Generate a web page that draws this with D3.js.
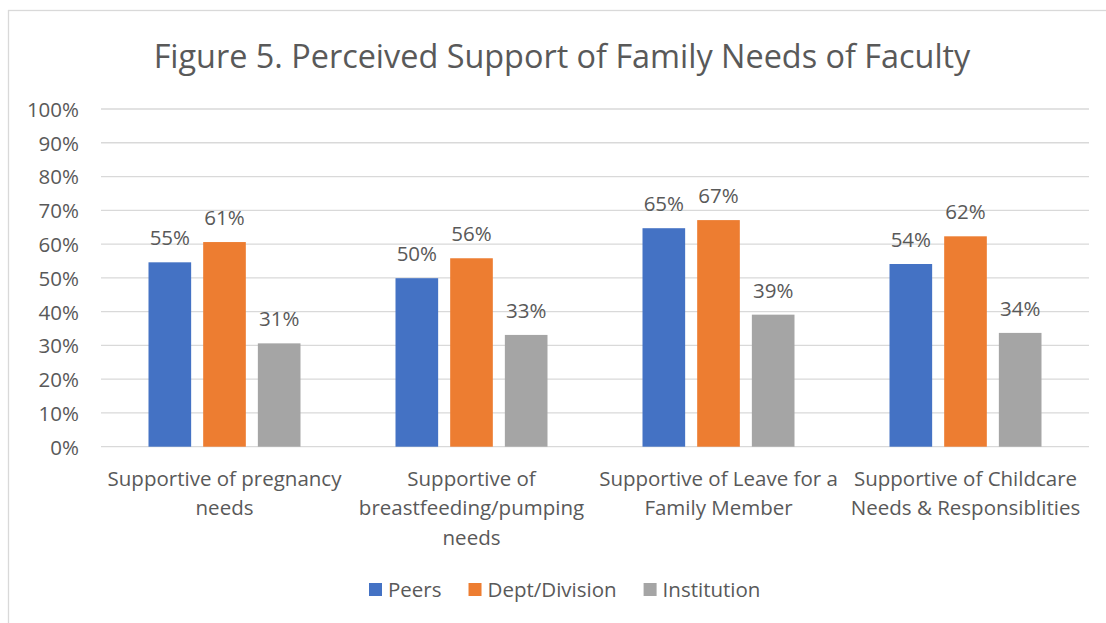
<!DOCTYPE html>
<html>
<head>
<meta charset="utf-8">
<script src="https://cdn.jsdelivr.net/npm/d3@7"></script>
<style>
  body { margin: 0; background: #fff; }
  text { font-family: "Open Sans", sans-serif; fill: #595959; }
</style>
</head>
<body>
<div id="chart"></div>
<script>
// chart data
const categories = ["pregnancy", "breastfeeding", "leave", "childcare"];
const tickLines = [
    ["Supportive of pregnancy", "needs"],
    ["Supportive of", "breastfeeding/pumping", "needs"],
    ["Supportive of Leave for a", "Family Member"],
    ["Supportive of Childcare", "Needs & Responsiblities"]
];
const series = ["Peers", "Dept/Division", "Institution"];
const peers = [54.6, 49.9, 64.7, 54.1];
const dept = [60.6, 55.8, 67.1, 62.3];
const institution = [30.6, 33.1, 39.1, 33.7];
const yTicks = [0, 10, 20, 30, 40, 50, 60, 70, 80, 90, 100];
const colors = ["#4472c4", "#ed7d31", "#a5a5a5"];
const title = "Figure 5. Perceived Support of Family Needs of Faculty";

const W = 1106, H = 623;
const values = [peers, dept, institution];

const svg = d3.select("#chart").append("svg").attr("width", W).attr("height", H);

// outer frame of the chart area
svg.append("rect")
    .attr("x", 8.5).attr("y", 10.5)
    .attr("width", 1120).attr("height", 640)
    .attr("fill", "none")
    .attr("stroke", "#d9d9d9")
    .attr("stroke-width", 1.3);

svg.append("text")
    .attr("x", 562).attr("y", 68)
    .attr("text-anchor", "middle")
    .style("font-size", "32.4px")
    .text(title);

const y = d3.scaleLinear().domain([0, 100]).range([446.7, 109]);
const x0 = d3.scaleBand().domain(categories).range([101, 1089]);
const x1 = d3.scaleBand().domain(series).range([47.5, 199.5]).paddingInner(0.22);

// grid lines
svg.append("g")
    .selectAll("line")
    .data(yTicks)
    .join("line")
    .attr("x1", 101).attr("x2", 1089)
    .attr("y1", d => y(d)).attr("y2", d => y(d))
    .attr("stroke", "#d9d9d9")
    .attr("stroke-width", 1.3);

// y axis labels
const yAxis = svg.append("g")
    .attr("transform", "translate(89,0)")
    .call(d3.axisLeft(y).tickValues(yTicks).tickSize(0).tickPadding(10).tickFormat(d => d + "%"));
yAxis.select(".domain").remove();
yAxis.selectAll("text")
    .attr("font-family", null)
    .style("font-size", "20.5px")
    .attr("dy", "0.36em");

// bars
const groups = svg.append("g")
    .selectAll("g")
    .data(series)
    .join("g")
    .attr("fill", (d, i) => colors[i]);

groups.each(function (s, si) {
    const g = d3.select(this);
    g.selectAll("rect")
        .data(categories)
        .join("rect")
        .attr("x", (c) => x0(c) + x1(s))
        .attr("width", x1.bandwidth())
        .attr("y", (c, ci) => y(values[si][ci]))
        .attr("height", (c, ci) => y(0) - y(values[si][ci]));
    g.selectAll("text")
        .data(categories)
        .join("text")
        .attr("x", (c) => x0(c) + x1(s) + x1.bandwidth() / 2)
        .attr("y", (c, ci) => y(values[si][ci]) - 17)
        .attr("text-anchor", "middle")
        .style("font-size", "20.5px")
        .text((c, ci) => Math.round(values[si][ci]) + "%");
});

// category labels
const xAxis = svg.append("g")
    .attr("transform", "translate(0,446.7)")
    .call(d3.axisBottom(x0).tickSize(0).tickFormat(""));
xAxis.select(".domain").remove();
xAxis.selectAll(".tick").each(function (c, i) {
    const t = d3.select(this).append("text")
        .attr("text-anchor", "middle")
        .style("font-size", "20.5px");
    t.selectAll("tspan")
        .data(tickLines[i])
        .join("tspan")
        .attr("x", 0)
        .attr("y", (d, k) => 39 + k * 29.5)
        .text(d => d);
});

// legend
const legend = svg.append("g");
const items = legend.selectAll("g")
    .data(series)
    .join("g");
items.append("rect")
    .attr("width", 13).attr("height", 13)
    .attr("y", 583)
    .attr("fill", (d, i) => colors[i]);
items.append("text")
    .attr("x", 19).attr("y", 597)
    .style("font-size", "20.5px")
    .text(d => d);
let lx = 369;
items.each(function () {
    const g = d3.select(this);
    g.attr("transform", "translate(" + lx + ",0)");
    lx += 19 + g.select("text").node().getComputedTextLength() + 27;
});
</script>
</body>
</html>
